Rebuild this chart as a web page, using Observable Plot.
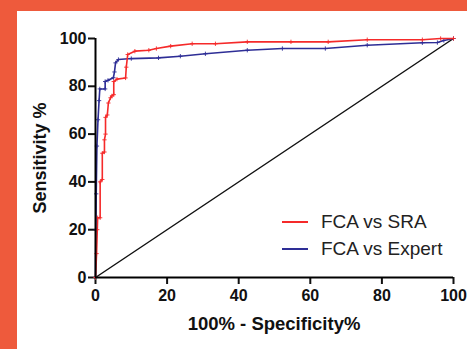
<!DOCTYPE html>
<html><head><meta charset="utf-8">
<script src="https://cdn.jsdelivr.net/npm/d3@7"></script>
<script src="https://cdn.jsdelivr.net/npm/@observablehq/plot@0.6"></script>
<style>
html,body{margin:0;padding:0;}
body{width:467px;height:349px;background:#ee5a3c;position:relative;overflow:hidden;font-family:"Liberation Sans",Arial,sans-serif;}
#panel{position:absolute;left:17px;top:11px;width:450px;height:338px;background:#fff;}
#chart{position:absolute;left:0;top:0;}
#chart svg g[aria-label$="tick label"] text{font-size:16px;font-weight:bold;fill:#111;}
.ttl{position:absolute;font-weight:bold;font-size:18.5px;color:#111;white-space:nowrap;}
#ytitle{left:40px;top:158px;font-size:18px;transform:translate(-50%,-50%) rotate(-90deg);}
#xtitle{left:274px;top:324px;transform:translate(-50%,-50%);}
#legend{position:absolute;left:282px;top:208px;font-size:19px;color:#222;}
.lg{display:flex;align-items:center;height:27px;}
.sw{display:inline-block;width:26px;height:2px;margin-right:13px;}
</style></head>
<body>
<div id="panel"></div>
<div id="chart"></div>
<div id="ytitle" class="ttl">Sensitivity %</div>
<div id="xtitle" class="ttl">100% - Specificity%</div>
<div id="legend"></div>
<script>
const seriesNames = ["FCA vs SRA", "FCA vs Expert"];
const seriesColors = ["#f52a2a", "#2e2e96"];
const xTicks = [0, 20, 40, 60, 80, 100];
const yTicks = [0, 20, 40, 60, 80, 100];

const sraX = [0, 0.3, 0.5, 0.6, 1.3, 1.3, 1.9, 1.9, 2.5, 2.5, 2.8, 2.8, 3.3, 3.6, 4.2, 4.6, 5.1, 5.1, 6.0, 8.4, 8.6, 9.0, 11, 14.9, 17, 21, 27, 33.5, 42.4, 54.6, 65, 75.9, 91.3, 96.4, 100];
const sraY = [0, 10, 20, 25, 25, 40, 41, 52, 52.5, 57.6, 60, 67, 68, 73, 75.2, 76, 76.5, 82, 83, 83.5, 88, 93.3, 94.7, 95.1, 95.8, 96.8, 97.8, 97.8, 98.6, 98.6, 98.6, 99.5, 99.5, 100, 100];

const expX = [0, 0.1, 0.2, 0.4, 0.7, 1.0, 1.2, 2.7, 2.7, 3.5, 5.0, 5.3, 5.6, 6.4, 10, 17.6, 23.7, 30.7, 42.4, 52.2, 64.2, 75.9, 91.3, 95.5, 97.3, 100];
const expY = [0, 20, 35, 55, 66, 74, 78.9, 78.9, 82, 82.5, 83.6, 86, 89.8, 91.2, 91.6, 91.9, 92.6, 93.6, 95.1, 95.8, 95.8, 97.2, 98.2, 98.3, 99.2, 100];

const diagX = [0, 100];
const diagY = [0, 100];

const sra = sraX.map((x, i) => ({x, y: sraY[i]}));
const exp = expX.map((x, i) => ({x, y: expY[i]}));
const diag = diagX.map((x, i) => ({x, y: diagY[i]}));

const chart = Plot.plot({
  width: 467, height: 349,
  marginLeft: 95, marginRight: 14, marginTop: 38, marginBottom: 72,
  style: {background: "transparent", fontFamily: "'Liberation Sans', Arial, sans-serif", fontSize: "16px", color: "#111", overflow: "visible"},
  x: {domain: [0, 100]},
  y: {domain: [0, 100]},
  marks: [
    Plot.axisX({ticks: xTicks, tickSize: 7, strokeWidth: 2, tickPadding: 5, label: null, fontWeight: "bold", fontSize: 16}),
    Plot.axisY({ticks: yTicks, tickSize: 7, strokeWidth: 2, tickPadding: 2, label: null, fontWeight: "bold", fontSize: 16}),
    Plot.line(diag, {x: "x", y: "y", stroke: "#111", strokeWidth: 1.5}),
    Plot.line(exp, {x: "x", y: "y", stroke: seriesColors[1], strokeWidth: 1.6}),
    Plot.dot(exp, {x: "x", y: "y", stroke: seriesColors[1], symbol: "plus", r: 1.5, strokeWidth: 0.9}),
    Plot.line(sra, {x: "x", y: "y", stroke: seriesColors[0], strokeWidth: 1.6}),
    Plot.dot(sra, {x: "x", y: "y", stroke: seriesColors[0], symbol: "plus", r: 1.5, strokeWidth: 0.9}),
    Plot.ruleX([0], {stroke: "#000", strokeWidth: 2}),
    Plot.ruleY([0], {stroke: "#000", strokeWidth: 2})
  ]
});
document.getElementById("chart").appendChild(chart);

const lg = document.getElementById("legend");
seriesNames.forEach((n, i) => {
  const row = document.createElement("div");
  row.className = "lg";
  const sw = document.createElement("span");
  sw.className = "sw";
  sw.style.background = seriesColors[i];
  const tx = document.createElement("span");
  tx.textContent = n;
  row.appendChild(sw);
  row.appendChild(tx);
  lg.appendChild(row);
});
</script>
</body></html>
